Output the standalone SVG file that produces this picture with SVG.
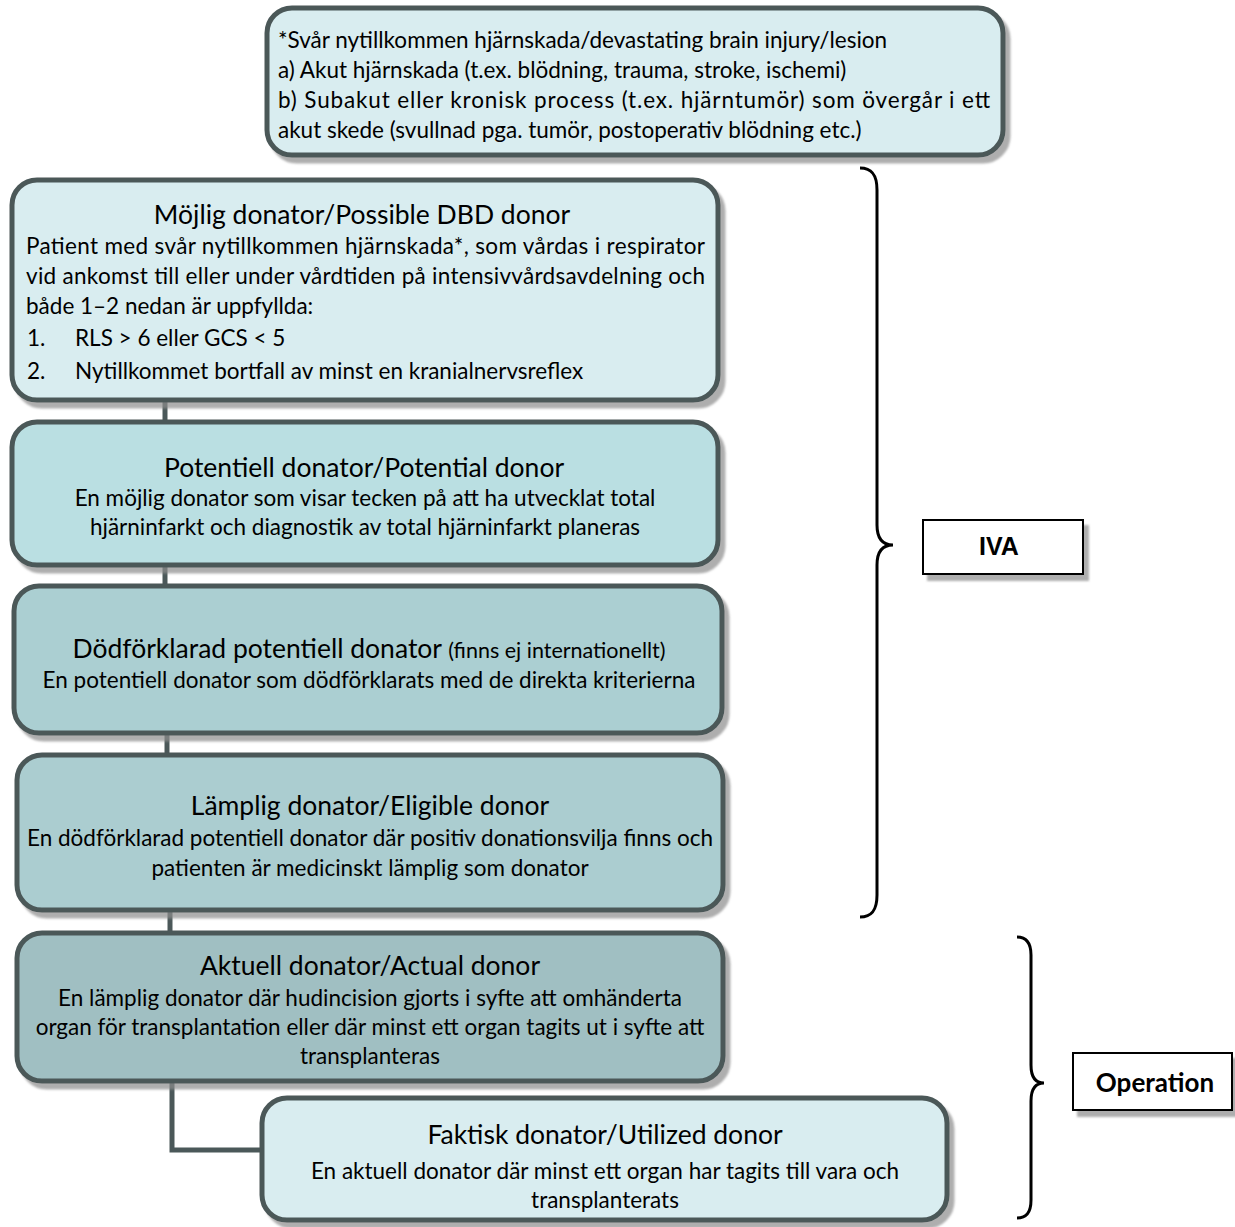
<svg xmlns="http://www.w3.org/2000/svg" width="1235" height="1227" viewBox="0 0 1235 1227">
<defs>
<filter id="sh" x="-5%" y="-5%" width="115%" height="120%">
<feDropShadow dx="5" dy="6" stdDeviation="1.2" flood-color="#8c8c8c" flood-opacity="0.7"/>
</filter>
<style>
.box{stroke:#4b5859;stroke-width:5;filter:url(#sh)}
.t{font-family:Lato,"Liberation Sans",sans-serif;fill:#000}
.title{font-size:26.5px;text-anchor:middle}
.body{font-size:22.5px}
.c{text-anchor:middle}
.conn{stroke:#4b5859;stroke-width:5;fill:none}
.brace{stroke:#000;stroke-width:3;fill:none}
.lbl{fill:#fff;stroke:#000;stroke-width:2;filter:url(#sh)}
</style>
</defs>
<g id="connectors">
<line class="conn" x1="165" y1="398" x2="165" y2="424"/>
<line class="conn" x1="165" y1="563" x2="165" y2="588"/>
<line class="conn" x1="167" y1="731" x2="167" y2="757"/>
<line class="conn" x1="170" y1="908" x2="170" y2="935"/>
<polyline class="conn" points="172,1079 172,1150 264,1150"/>
</g>
<g id="note">
<rect class="box" x="267" y="8" width="736" height="147" rx="25" fill="#d9edf0"/>
<text class="t body" x="278" y="48">*Svår nytillkommen hjärnskada/devastating brain injury/lesion</text>
<text class="t body" x="278" y="78">a) Akut hjärnskada (t.ex. blödning, trauma, stroke, ischemi)</text>
<text class="t body" x="278" y="108" textLength="712" lengthAdjust="spacing">b) Subakut eller kronisk process (t.ex. hjärntumör) som övergår i ett</text>
<text class="t body" x="278" y="138">akut skede (svullnad pga. tumör, postoperativ blödning etc.)</text>
</g>
<g id="possible">
<rect class="box" x="12" y="180" width="706" height="220" rx="25" fill="#d9edf0"/>
<text class="t title" x="362" y="224">Möjlig donator/Possible DBD donor</text>
<text class="t body" x="26" y="254" textLength="679" lengthAdjust="spacing">Patient med svår nytillkommen hjärnskada*, som vårdas i respirator</text>
<text class="t body" x="26" y="284" textLength="679" lengthAdjust="spacing">vid ankomst till eller under vårdtiden på intensivvårdsavdelning och</text>
<text class="t body" x="26" y="314">både 1–2 nedan är uppfyllda:</text>
<text class="t body" x="27" y="346">1.</text>
<text class="t body" x="75" y="346">RLS &gt; 6 eller GCS &lt; 5</text>
<text class="t body" x="27" y="379">2.</text>
<text class="t body" x="75" y="379">Nytillkommet bortfall av minst en kranialnervsreflex</text>
</g>
<g id="potential">
<rect class="box" x="12" y="422" width="706" height="143" rx="25" fill="#badfe2"/>
<text class="t title" x="364" y="477">Potentiell donator/Potential donor</text>
<text class="t body c" x="365" y="506">En möjlig donator som visar tecken på att ha utvecklat total</text>
<text class="t body c" x="365" y="535">hjärninfarkt och diagnostik av total hjärninfarkt planeras</text>
</g>
<g id="declared">
<rect class="box" x="14" y="586" width="708" height="147" rx="25" fill="#abcfd2"/>
<text class="t title" x="369" y="658" font-size="27.5">Dödförklarad potentiell donator <tspan font-size="21.5">(finns ej internationellt)</tspan></text>
<text class="t body c" x="369" y="688">En potentiell donator som dödförklarats med de direkta kriterierna</text>
</g>
<g id="eligible">
<rect class="box" x="17" y="755" width="706" height="155" rx="25" fill="#abcdd0"/>
<text class="t title" x="370" y="815">Lämplig donator/Eligible donor</text>
<text class="t body c" x="370" y="846">En dödförklarad potentiell donator där positiv donationsvilja finns och</text>
<text class="t body c" x="370" y="876">patienten är medicinskt lämplig som donator</text>
</g>
<g id="actual">
<rect class="box" x="17" y="933" width="706" height="148" rx="25" fill="#a0bfc2"/>
<text class="t title" x="370" y="975">Aktuell donator/Actual donor</text>
<text class="t body c" x="370" y="1006">En lämplig donator där hudincision gjorts i syfte att omhänderta</text>
<text class="t body c" x="370" y="1035">organ för transplantation eller där minst ett organ tagits ut i syfte att</text>
<text class="t body c" x="370" y="1064">transplanteras</text>
</g>
<g id="utilized">
<rect class="box" x="262" y="1098" width="685" height="122" rx="25" fill="#d9edf0"/>
<text class="t title" x="605" y="1144">Faktisk donator/Utilized donor</text>
<text class="t body c" x="605" y="1179">En aktuell donator där minst ett organ har tagits till vara och</text>
<text class="t body c" x="605" y="1208">transplanterats</text>
</g>
<g id="iva">
<path class="brace" d="M860 168 C872 168 877 175 877 190 L877 525 C877 538 882 545 893 545 C882 545 877 552 877 565 L877 895 C877 910 872 917 860 917"/>
<rect class="lbl" x="923" y="520" width="160" height="54"/>
<text x="999" y="555" text-anchor="middle" font-family="'Liberation Sans',sans-serif" font-weight="bold" font-size="25">IVA</text>
</g>
<g id="operation">
<path class="brace" d="M1017 937 C1027 937 1031 944 1031 955 L1031 1065 C1031 1077 1035 1083 1044 1083 C1035 1083 1031 1089 1031 1101 L1031 1200 C1031 1212 1027 1218 1017 1218"/>
<rect class="lbl" x="1073" y="1053" width="159" height="57"/>
<text x="1155" y="1092" text-anchor="middle" font-family="Lato,'Liberation Sans',sans-serif" font-weight="bold" font-size="26">Operation</text>
</g>
</svg>
